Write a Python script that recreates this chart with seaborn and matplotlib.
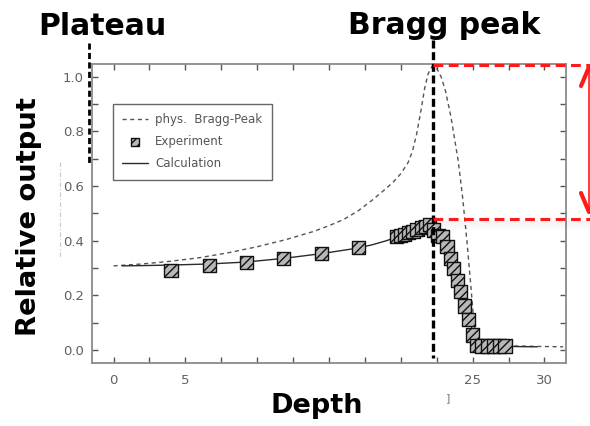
import matplotlib
matplotlib.use("Agg")
import matplotlib.pyplot as plt
from matplotlib.lines import Line2D
from matplotlib.patches import Rectangle
from matplotlib.ticker import MultipleLocator, FixedLocator, FixedFormatter
import pandas as pd
import seaborn as sns

# Physical (pristine) Bragg curve, dashed
phys_depth = [0.0, 2.0, 4.0, 6.0, 8.0, 10.0, 12.0, 14.0, 15.0, 16.0, 17.0, 18.0,
              19.0, 19.5, 20.0, 20.5, 20.8, 21.1, 21.4, 21.67, 21.9, 22.2, 22.5,
              22.8, 23.1, 23.5, 24.0, 24.3, 24.6, 24.9, 25.1, 25.4, 26.0, 28.0, 31.3]
phys_dose = [0.308, 0.315, 0.325, 0.338, 0.356, 0.378, 0.404, 0.435, 0.455, 0.477,
             0.508, 0.548, 0.592, 0.616, 0.645, 0.685, 0.725, 0.79, 0.875, 0.96,
             1.01, 1.04, 1.03, 1.0, 0.95, 0.85, 0.69, 0.56, 0.40, 0.22, 0.09,
             0.04, 0.02, 0.015, 0.012]

# Calculated detector response, solid
calc_depth = [0.6, 2.0, 4.0, 6.7, 9.2, 11.8, 14.5, 17.0, 18.0, 19.0, 19.7, 20.3,
              20.9, 21.5, 22.0, 22.3, 22.6, 22.9, 23.2, 23.5, 23.8, 24.1, 24.4,
              24.7, 25.0, 25.3, 25.7, 26.5, 28.0, 29.5]
calc_dose = [0.308, 0.309, 0.311, 0.315, 0.322, 0.335, 0.353, 0.373, 0.385, 0.40,
             0.413, 0.425, 0.437, 0.449, 0.457, 0.45, 0.43, 0.405, 0.37, 0.325,
             0.28, 0.235, 0.18, 0.125, 0.07, 0.03, 0.016, 0.014, 0.013, 0.012]

# Measured points
exp_depth = [4.0, 6.67, 9.23, 11.83, 14.5, 17.07, 19.69, 19.97, 20.27, 20.55,
             20.85, 21.13, 21.43, 21.71, 22.01, 22.25, 22.59, 22.9, 23.22, 23.46,
             23.69, 23.92, 24.16, 24.46, 24.69, 24.99, 25.27, 25.65, 26.05, 26.45,
             26.85, 27.25]
exp_dose = [0.292, 0.308, 0.320, 0.335, 0.353, 0.374, 0.414, 0.419, 0.424, 0.429,
            0.435, 0.441, 0.447, 0.453, 0.460, 0.439, 0.420, 0.414, 0.378, 0.335,
            0.299, 0.256, 0.213, 0.161, 0.112, 0.055, 0.016, 0.015, 0.015, 0.015,
            0.015, 0.015]

x_ticks = [0, 5, 10, 15, 20, 25, 30]
x_tick_labels = ["0", "5", "", "", "", "25", "30"]
y_ticks = [0.0, 0.2, 0.4, 0.6, 0.8, 1.0]
y_tick_labels = ["0.0", "0.2", "0.4", "0.6", "0.8", "1.0"]

legend_labels = ["phys.  Bragg-Peak", "Experiment", "Calculation"]

phys = pd.DataFrame({"depth": phys_depth, "dose": phys_dose})
calc = pd.DataFrame({"depth": calc_depth, "dose": calc_dose})
exp = pd.DataFrame({"depth": exp_depth, "dose": exp_dose})

sns.set_theme(style="ticks")
plt.rcParams["font.family"] = ["DejaVu Sans"]
plt.rcParams["hatch.linewidth"] = 1.0

W, H = 590, 426
fig = plt.figure(figsize=(W / 100, H / 100), dpi=100)
fig.patch.set_facecolor("white")


def fx(x):
    return x / W


def fy(y):
    return 1 - y / H


ax = fig.add_axes([fx(92), fy(362.7), fx(566) - fx(92), fy(64) - fy(362.7)])
ax.set_facecolor("white")

sns.lineplot(data=phys, x="depth", y="dose", ax=ax, sort=False, color="#555555",
             linewidth=1.0, linestyle=(0, (3, 2.5)), label=legend_labels[0])
sns.lineplot(data=calc, x="depth", y="dose", ax=ax, sort=False, color="#2a2a2a",
             linewidth=1.0, label=legend_labels[2])
sns.scatterplot(data=exp, x="depth", y="dose", ax=ax, marker="s", s=90,
                color="#b8b8b8", edgecolor="#111111", linewidth=1.0,
                hatch="////", zorder=3, label=legend_labels[1])

ax.set_xlim(-1.5, 31.5)
ax.set_ylim(-0.046, 1.046)
ax.set_xlabel("")
ax.set_ylabel("")

ax.xaxis.set_major_locator(FixedLocator(x_ticks))
ax.xaxis.set_major_formatter(FixedFormatter(x_tick_labels))
ax.xaxis.set_minor_locator(MultipleLocator(2.5))
ax.yaxis.set_major_locator(FixedLocator(y_ticks))
ax.yaxis.set_major_formatter(FixedFormatter(y_tick_labels))
ax.yaxis.set_minor_locator(MultipleLocator(0.1))
ax.tick_params(which="both", direction="in", length=4, width=1.0,
               color="#555555", top=True, right=True,
               labelsize=9.5, labelcolor="#606060")
ax.tick_params(axis="x", pad=8)
ax.tick_params(axis="y", pad=6)
for side in ax.spines.values():
    side.set_color("#8a8a8a")
    side.set_linewidth(1.3)

handles, labels = ax.get_legend_handles_labels()
order = [labels.index(l) for l in legend_labels]
leg = ax.legend([handles[i] for i in order], [labels[i] for i in order],
                loc="upper left", bbox_to_anchor=(0.044, 0.866), borderaxespad=0,
                frameon=True, fancybox=False, framealpha=1, edgecolor="#666666",
                fontsize=8.5, labelcolor="#555555", handlelength=2.2,
                handletextpad=0.6, borderpad=0.8, labelspacing=0.75,
                markerscale=0.6)
leg.get_frame().set_linewidth(1.0)

# Overlay annotations drawn in figure pixel space
bold = dict(family=["DejaVu Sans"], fontweight="bold", color="black")
fig.text(fx(102), fy(35), "Plateau", ha="center", va="baseline", fontsize=21.5, **bold)
fig.text(fx(444), fy(34), "Bragg peak", ha="center", va="baseline", fontsize=21.5, **bold)
fig.text(fx(29), fy(217), "Relative output", ha="center", va="center",
         rotation=90, fontsize=19.7, **bold)
fig.text(fx(317), fy(413), "Depth", ha="center", va="baseline", fontsize=19.5, **bold)
fig.text(fx(448), fy(398), "]", ha="center", va="center", fontsize=8, color="#777777")


def fig_line(xs, ys, **kw):
    fig.add_artist(Line2D([fx(x) for x in xs], [fy(y) for y in ys],
                          transform=fig.transFigure, **kw))


# faint remnant marker on the left
fig_line([60, 60], [162, 257], color="#c8c8c8", linewidth=0.8,
         linestyle=(0, (4, 2, 1, 2)))

# region markers
fig_line([89, 89], [43, 163], color="black", linewidth=2.0,
         linestyle=(0, (2.2, 1.2)))
fig_line([433, 433], [40, 358], color="black", linewidth=2.4,
         linestyle=(0, (2.4, 1.1)))

# soft shadow below the highlight box
for i in range(10):
    fig.add_artist(Rectangle((fx(436), fy(221 + i + 1)), fx(590) - fx(436), 1 / H,
                             transform=fig.transFigure, facecolor="#000000",
                             edgecolor="none", alpha=0.05 * (1 - i / 10)))

# highlight box (red dashed)
fig_line([433, 590], [65, 65], color="#ff1a1a", linewidth=2.2,
         linestyle=(0, (3.2, 1.8)))
fig_line([433, 590], [219, 219], color="#ff1a1a", linewidth=2.2,
         linestyle=(0, (3.2, 1.8)))

# double arrow at the right edge
fig_line([589, 589], [68, 212], color="#ff1a1a", linewidth=1.2)
fig_line([581, 589, 597], [86, 67, 86], color="#ff1a1a", linewidth=3.0,
         solid_capstyle="round", solid_joinstyle="round")
fig_line([581, 589, 597], [193, 212, 193], color="#ff1a1a", linewidth=3.0,
         solid_capstyle="round", solid_joinstyle="round")

fig.savefig("out.png", dpi=100, facecolor="white")
